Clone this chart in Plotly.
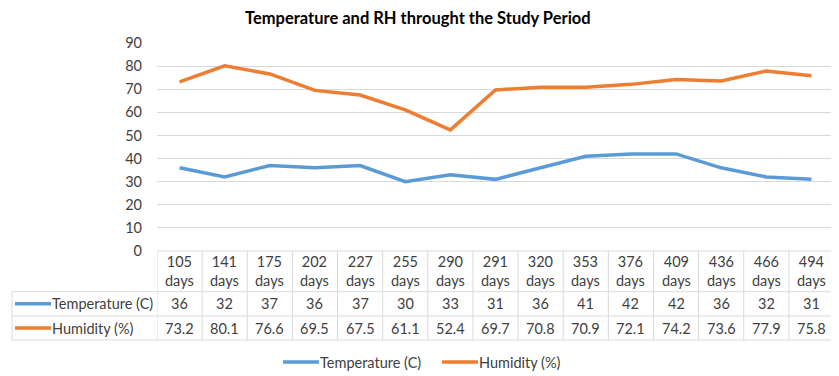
import plotly.graph_objects as go

days = ["105", "141", "175", "202", "227", "255", "290", "291", "320", "353", "376", "409", "436", "466", "494"]
temperature = [36, 32, 37, 36, 37, 30, 33, 31, 36, 41, 42, 42, 36, 32, 31]
humidity = [73.2, 80.1, 76.6, 69.5, 67.5, 61.1, 52.4, 69.7, 70.8, 70.9, 72.1, 74.2, 73.6, 77.9, 75.8]
series_names = ["Temperature (C)", "Humidity (%)"]
colors = ["#5B9BD5", "#ED7D31"]
y_ticks = [0, 10, 20, 30, 40, 50, 60, 70, 80, 90]

# the page body has an 8px margin, so the figure is shifted by OFF
OFF = 8
W, H = 839 - OFF, 376 - OFF
L, R, T, B = 157 - OFF, 5, 43 - OFF, 125
PW, PH = W - L - R, H - T - B
FONT = "Lato, Liberation Sans, sans-serif"
TXT = "#404040"
GRID = "#D9D9D9"
FS = 14.5


def py(p):  # window pixel y -> paper y
    return (251 - p) / PH


def px(p):  # window pixel x -> paper x
    return (p - 157) / PW


x_idx = list(range(len(days)))
fig = go.Figure()
for name, vals, c in zip(series_names, [temperature, humidity], colors):
    fig.add_trace(go.Scatter(x=x_idx, y=vals, mode="lines", name=name,
                             line=dict(color=c, width=3.5)))

shapes = []
annotations = []
y_top, y_h, y_r1, y_r2 = 251, 291.7, 316, 340
# horizontal table lines
shapes.append(dict(type="line", xref="x", yref="paper", x0=-0.5, x1=len(days) - 0.5,
                   y0=py(y_top), y1=py(y_top), line=dict(color=GRID, width=1)))
for yy in [y_h, y_r1, y_r2]:
    shapes.append(dict(type="line", xref="paper", yref="paper", x0=px(12), x1=1,
                       y0=py(yy), y1=py(yy), line=dict(color=GRID, width=1)))
# vertical lines
for i in range(len(days) + 1):
    shapes.append(dict(type="line", xref="x", yref="paper", x0=i - 0.5, x1=i - 0.5,
                       y0=py(y_top), y1=py(y_r2), line=dict(color=GRID, width=1)))
shapes.append(dict(type="line", xref="paper", yref="paper", x0=px(12), x1=px(12),
                   y0=py(y_h), y1=py(y_r2), line=dict(color=GRID, width=1)))


def ann(x, y, text, xref="x", xanchor="center", size=FS, color=TXT, yanchor="middle"):
    return dict(xref=xref, yref="paper", x=x, y=y, text=text, showarrow=False,
                xanchor=xanchor, yanchor=yanchor,
                font=dict(family=FONT, size=size, color=color))


# table text
for i, d in enumerate(days):
    annotations.append(ann(i, py((y_top + y_h) / 2), f"{d}<br>days"))
    annotations.append(ann(i, py((y_h + y_r1) / 2), f"{temperature[i]}"))
    annotations.append(ann(i, py((y_r1 + y_r2) / 2), f"{humidity[i]}"))

# row labels with legend keys
for k, (name, c) in enumerate(zip(series_names, colors)):
    yc = (y_h + y_r1) / 2 if k == 0 else (y_r1 + y_r2) / 2
    shapes.append(dict(type="line", xref="paper", yref="paper", x0=px(15), x1=px(51),
                       y0=py(yc), y1=py(yc), line=dict(color=c, width=3.5)))
    annotations.append(ann(px(50), py(yc), name, xref="paper", xanchor="left"))

# bottom legend (drawn manually so it does not push margins)
leg_y = 362
leg_items = [(283, 319), (442, 478)]
for (x0, x1), name, c in zip(leg_items, series_names, colors):
    shapes.append(dict(type="line", xref="paper", yref="paper", x0=px(x0), x1=px(x1),
                       y0=py(leg_y), y1=py(leg_y), line=dict(color=c, width=3.5)))
    annotations.append(ann(px(x1 - 1), py(leg_y), name, xref="paper", xanchor="left"))

# chart title as a paper annotation
annotations.append(ann(px(418), py(18), "<b>Temperature and RH throught the Study Period</b>",
                       xref="paper", size=16.5, color="black"))

fig.update_layout(
    width=W, height=H,
    margin=dict(l=L, r=R, t=T, b=B),
    paper_bgcolor="white", plot_bgcolor="white",
    xaxis=dict(range=[-0.5, len(days) - 0.5], showticklabels=False, showgrid=False,
               zeroline=False, showline=False, fixedrange=True),
    yaxis=dict(range=[0, 90], tickvals=y_ticks, showgrid=True, gridcolor=GRID, gridwidth=1,
               zeroline=False, showline=False, ticks="", ticklabelstandoff=14,
               tickfont=dict(family=FONT, size=FS, color=TXT)),
    showlegend=False,
    shapes=shapes,
    annotations=annotations,
)

fig.write_html("out.html")
